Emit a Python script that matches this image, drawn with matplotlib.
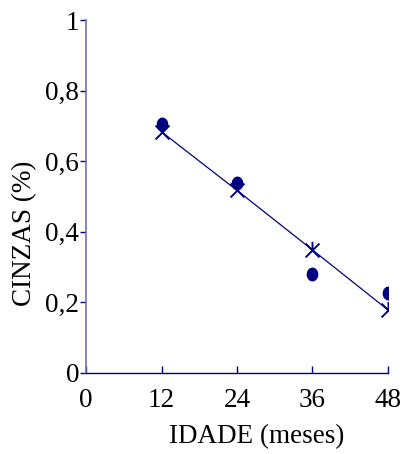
import numpy as np
import matplotlib.pyplot as plt
from matplotlib.path import Path

# idade (meses) e teor de cinzas (%)
idade = [12, 24, 36, 48]
cinzas_obs = [0.705, 0.537, 0.279, 0.227]
cinzas_est = [0.683, 0.517, 0.348, 0.178]

x_ticks = [0, 12, 24, 36, 48]
y_ticks = [0, 0.2, 0.4, 0.6, 0.8, 1.0]
y_tick_labels = ["0", "0,2", "0,4", "0,6", "0,8", "1"]

navy = "#000080"
plt.rcParams['font.family'] = ['Liberation Serif', 'DejaVu Serif']

# asterisco de 5 pontas (X + haste vertical superior)
star = Path(
    [(-1, -1), (1, 1), (-1, 1), (1, -1), (0, 0), (0, 1.25)],
    [Path.MOVETO, Path.LINETO, Path.MOVETO, Path.LINETO, Path.MOVETO, Path.LINETO],
)
# elipse um pouco mais alta que larga
t = np.linspace(0, 2 * np.pi, 60)
ellipse = np.column_stack([0.82 * np.cos(t), np.sin(t)])

fig = plt.figure(figsize=(4.09, 4.54), dpi=100)
ax = fig.add_axes([86 / 409, 1 - 372.7 / 454, 302 / 409, 352.7 / 454])

ax.plot(idade, cinzas_est, color=navy, lw=0.9, marker=star, ms=12.5,
        mew=1.4, mec=navy, mfc='none', zorder=3)
ax.plot(idade, cinzas_obs, ls='none', marker=ellipse, ms=9, color=navy,
        zorder=4)

ax.set_xlim(0, 48)
ax.set_ylim(0, 1)
ax.set_xticks(x_ticks)
ax.set_xticklabels([str(v) for v in x_ticks])
ax.set_yticks(y_ticks)
ax.set_yticklabels(y_tick_labels)

for s in ['top', 'right']:
    ax.spines[s].set_visible(False)
ax.spines['left'].set_color('#7070b8')
ax.spines['bottom'].set_color(navy)
ax.spines['left'].set_linewidth(1.2)
ax.spines['bottom'].set_linewidth(1.0)

ax.tick_params(axis='x', direction='in', length=5, width=1.0, color=navy,
               labelsize=19.5, pad=11)
ax.tick_params(axis='y', direction='out', length=4, width=1.0, color=navy,
               labelsize=19.5, pad=1)
ax.patch.set_alpha(0)
for lab in ax.get_xticklabels() + ax.get_yticklabels():
    lab.set_clip_on(False)

fig.text(25 / 409, 1 - 233 / 454, "CINZAS (%)", rotation=90,
         ha='center', va='center', fontsize=19.5)
fig.text(257 / 409, 1 - 437 / 454, "IDADE (meses)",
         ha='center', va='center', fontsize=19.5)

fig.savefig("out.png", dpi=100)
